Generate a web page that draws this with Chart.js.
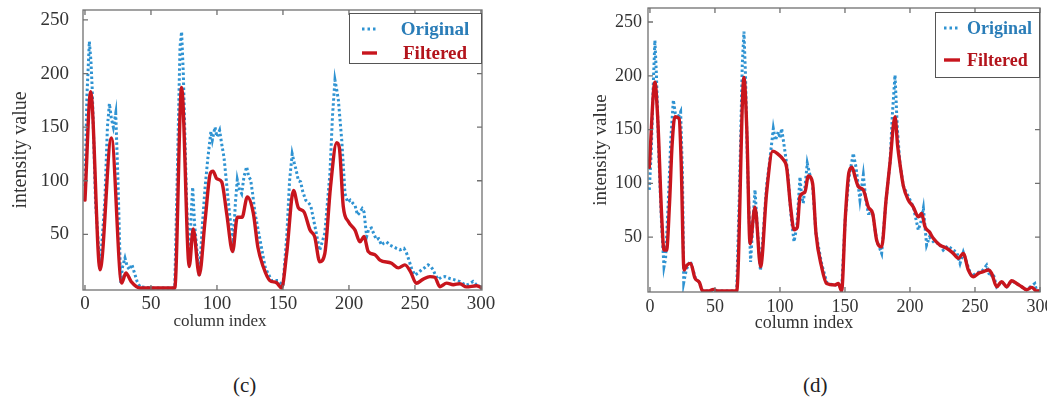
<!DOCTYPE html>
<html><head><meta charset="utf-8">
<script src="https://cdn.jsdelivr.net/npm/chart.js@4.4.1/dist/chart.umd.min.js"></script>
<style>
html,body{margin:0;padding:0;background:#fff;width:1047px;height:403px;overflow:hidden;}
#c1{position:absolute;left:0;top:0;}
#c2{position:absolute;left:520px;top:0;}
.cap{position:absolute;top:372px;line-height:26px;font-family:"Liberation Serif","Times New Roman",serif;font-size:21px;color:#222;}
</style></head><body>
<canvas id="c1" width="520" height="340"></canvas>
<canvas id="c2" width="527" height="340"></canvas>
<div class="cap" style="left:233px">(c)</div>
<div class="cap" style="left:803px">(d)</div>
<script>
// ---------- data ----------
const xTickValues = [0, 50, 100, 150, 200, 250, 300];
const yTickValues = [50, 100, 150, 200, 250];
const seriesNames = ['Original', 'Filtered'];
const xAxisTitle = 'column index';
const yAxisTitle = 'intensity value';

// panel (c)
const cOrigX = [0,1.5,2.5,3.3,4.5,5.5,8,11.4,15,17,18.5,20,21.5,23.3,25,27,28.5,30.3,32,33.8,35.5,37.5,39.5,41.7,50,68,70,72,73.2,74.5,77,79,80.5,81.6,83,86.6,89,91,93,95.4,96.5,98.5,100,102,103.5,105.3,107.5,109.8,112.4,114,115.4,117,118.7,120.5,122.5,124,125.5,127,128.8,132.6,136.4,138.5,141.4,146.4,150,153,155,157,158.5,160,161.7,163.4,165,167.2,169,171,173,174.8,177.8,181.7,185.6,187.5,189.4,191,192,194.6,197,199,201,203,204.6,206.5,208,210,211.4,213.4,215,217,219,220.8,222.5,224.7,226.5,228.5,231,233.6,236,238.6,241.7,243.5,244.9,247.5,250,252.5,255,257.5,260,262,263.8,265.5,267.6,270,272.7,276,279,281.5,284,286.5,289,291.5,294,296.5,299];
const cOrigY = [95,180,207,230,212,185,80,18,80,150,172,158,150,163,100,5,20,28,20,17,22,14,6,1,0,0,110,225,239,200,80,20,70,94,60,11,60,94,120,146,138,150,141,147,135,122,95,66,45,80,101,92,88,104,113,104,101,88,70,45,20,14,7,7,2,51,100,125,117,110,100,99,90,82,80,77,65,54,35,51,107,160,194,183,175,137,88,80,82,79,77,68,70,74,71,48,55,56,50,45,46,40,42,43,40,38.5,37,35.5,37,33,28,18,12,14,17,19,21.5,20,17,12,8,10,10.6,9,8,7,6,4,2.5,4,6,3,2];
const cFiltX = [0,4.3,11.4,20,27.8,31,35,41.7,68,73.2,79,82,86.6,91,95,97,99.8,103.6,107.3,111.9,115.4,119,123,127.5,131,135,140,145,149,152.8,158,161.6,165.9,170.5,174,177.9,181.7,186,190.7,192.7,195.7,199.5,204.6,208.3,211.4,214.6,219.7,223.5,232.3,237.4,242.4,246.7,251,256,261.4,265,268.9,274,279,284,289,296.7,300];
const cFiltY = [82,183,17,140,4.5,14,6,0,0,187,20,55,12,63,107,109,102,99,70,34,66,66,85,70,38,20,7,5,0,32,91,75,71,54,48,24.5,32,94,135.5,131,76,62,54,43,48,34,31,26,23,18.7,21.5,15,4.4,8,10.6,10,1.2,4.5,3,4,1,2,0.5];

// panel (d)
const dOrigX = [-0.5,1,2.5,3.8,5,7,9,10.8,12,14,16,18,19.5,21,23.6,25,26,28,31,33,35,38,40.5,66.7,69,71,72.3,73.5,75,77.4,79.5,80.8,82.5,85,87.5,89.7,92,94.9,96.5,98.7,100,101.3,103.8,106,108.5,110.8,113,115.4,116.5,117.9,119.5,121,123,125,127.7,132,136,142,145,147.4,150.3,153,156.4,158.5,161.5,164.1,166,168,171.3,174.4,178.2,181.6,184.6,186.5,188.5,190.3,192.3,194.9,198.7,202.6,206.4,208.5,210.3,212.8,215,219.2,222,225.6,229,233.3,236,238.5,241,244,247.4,251,255,258.9,261.5,264,266.7,270.5,274.4,278.2,282,285.9,289.7,293.6,296,297.4,300];
const dOrigY = [94,130,190,233,200,120,60,22.6,30,80,140,177.5,165,160,166.6,110,8,20,28,20,12,8,0,0,100,210,241,200,120,27,70,94,60,19,60,98,120,151,140,148,142,151,130,110,70,45.8,60,106,90,81.5,100,118.7,108,100,53.6,25.6,8,5,7,1,69,105,128,115,84.6,108,85,72,72,47,35,84.6,118.7,165,200.7,150,118,97.6,88,78,56.7,65,76.9,42.7,50,44,45,38,42,38,36,25.7,36,25,13.3,17,18,24,13.3,16,4,8.7,4,9.6,7,4,1.2,5,7,0,0];
const dFiltX = [-0.5,3.8,6,9,10.8,12.8,15,17,19.2,22.5,24,26.2,28.5,31.3,34.6,38,40.5,45,48.7,52,66.7,72.3,74.5,77,80.8,85.1,89.7,94.4,98.7,102.6,105.1,108.2,110.8,113.3,115.4,119.2,121.8,125.1,127.7,132,135.9,142.3,144.9,147.4,150.3,153,155.4,158,160.3,164.1,168,171.3,174.4,178.2,181.6,184.6,188.5,190.5,192.3,194.9,198.7,202.6,206.4,209,211.5,214.9,217.9,223,228.2,233.3,237.2,241,244.9,248.7,252.6,256.4,260.3,262.8,266.7,270.5,274.4,278.2,282,285.9,289.7,293.6,297.4,300];
const dFiltY = [115,194,160,70,38,38,80,135,162,160,120,19.5,24,25.7,12,8,0,0,1.5,0,0,198.5,150,44,78,22.6,91,130,127,122,115,78,57,59,88,92,107,100,53.6,22.6,7,5.6,7,0,69,110,115,105,97,94,78,72,47,41,84.6,118.7,162,135,118,97.6,84.6,78,69,72,59.8,55,49,42.7,39.7,35,30.4,35,19.5,13.3,16.4,18,19.5,16.4,4,8.7,4,9.6,7,4,1.2,3.4,0,0];

// ---------- styling ----------
const FONT = '"Liberation Serif","Times New Roman",serif';
const BLUE = '#2f93d2';
const RED = '#c8151d';
const BLUE_TXT = '#2a7db8';
const RED_TXT = '#b3141c';
const TXT = '#333';

const boxLegend = {
  id: 'boxLegend',
  afterDraw(chart, args, o) {
    const {ctx, chartArea: a, scales: {x, y}} = chart;
    ctx.save();
    ctx.strokeStyle = '#707070';
    ctx.lineWidth = 1.3;
    ctx.strokeRect(a.left, a.top, a.right - a.left, a.bottom - a.top);
    ctx.beginPath();
    x.ticks.forEach(t => {
      const p = x.getPixelForValue(t.value);
      ctx.moveTo(p, a.bottom); ctx.lineTo(p, a.bottom - 5);
      ctx.moveTo(p, a.top); ctx.lineTo(p, a.top + 5);
    });
    y.ticks.forEach(t => {
      const p = y.getPixelForValue(t.value);
      ctx.moveTo(a.left, p); ctx.lineTo(a.left + 5, p);
      ctx.moveTo(a.right, p); ctx.lineTo(a.right - 5, p);
    });
    ctx.stroke();
    ctx.fillStyle = TXT;
    ctx.font = o.xTitleSize + 'px ' + FONT;
    ctx.textAlign = 'center';
    ctx.textBaseline = 'middle';
    ctx.fillText(xAxisTitle, a.left + o.xTitleDx, o.xTitleY);
    const bx = a.right - o.w, by = a.top + o.dy;
    ctx.fillStyle = '#fff';
    ctx.fillRect(bx, by, o.w, o.h);
    ctx.strokeStyle = '#555';
    ctx.lineWidth = 1;
    ctx.strokeRect(bx + 0.5, by + 0.5, o.w - 1, o.h - 1);
    const ds = chart.data.datasets;
    ctx.font = 'bold ' + o.fontSize + 'px ' + FONT;
    ctx.textAlign = o.textAlign;
    ds.forEach((d, i) => {
      const ry = by + o.rows[i];
      ctx.beginPath();
      ctx.strokeStyle = d.borderColor;
      ctx.lineWidth = i === 0 ? 3 : 3.4;
      ctx.setLineDash(i === 0 ? [2.5, 3] : []);
      ctx.moveTo(bx + o.sx, ry); ctx.lineTo(bx + o.sx + o.sw, ry);
      ctx.stroke();
      ctx.setLineDash([]);
      ctx.fillStyle = i === 0 ? BLUE_TXT : RED_TXT;
      ctx.fillText(d.label, bx + o.tx, ry + 1);
    });
    ctx.restore();
  }
};

function makeChart(id, ox, oy, fx, fy, c) {
  const pts = (xs, ys) => xs.map((v, i) => ({x: v, y: ys[i]}));
  return new Chart(document.getElementById(id), {
    type: 'line',
    data: {datasets: [
      {label: seriesNames[0], data: pts(ox, oy), borderColor: BLUE, borderWidth: 3,
       borderDash: [2.5, 2.5], pointRadius: 0, order: 2, tension: 0, fill: false},
      {label: seriesNames[1], data: pts(fx, fy), borderColor: RED, borderWidth: 3.4,
       pointRadius: 0, order: 1, cubicInterpolationMode: 'monotone', fill: false,
       borderJoinStyle: 'round', borderCapStyle: 'round'}
    ]},
    options: {
      responsive: false, animation: false,
      layout: {padding: {left: 0, right: c.padRight, top: c.padTop, bottom: 0}},
      plugins: {legend: {display: false}, tooltip: {enabled: false}, boxLegend: c.legend},
      scales: {
        x: {
          type: 'linear', min: c.xMin, max: c.xMax,
          grid: {display: false, drawTicks: false}, border: {display: false},
          afterBuildTicks: s => { s.ticks = xTickValues.map(v => ({value: v})); },
          ticks: {font: {family: FONT, size: c.tickSize}, color: TXT, padding: c.xTickPad,
                  maxRotation: 0, autoSkip: false},
          afterFit: s => { s.height = c.xAxisH; s.paddingLeft = 0; s.paddingRight = 0; }
        },
        y: {
          type: 'linear', min: c.yMin, max: c.yMax,
          grid: {display: false, drawTicks: false}, border: {display: false},
          afterBuildTicks: s => { s.ticks = yTickValues.map(v => ({value: v})); },
          ticks: {font: {family: FONT, size: c.tickSize}, color: TXT, padding: c.yTickPad},
          title: {display: true, text: yAxisTitle, color: TXT,
                  font: {family: FONT, size: c.yTitleSize}, padding: {top: c.yTitlePad, bottom: 0}},
          afterFit: s => { s.width = c.yAxisW; s.paddingTop = 0; s.paddingBottom = 0; }
        }
      }
    },
    plugins: [boxLegend]
  });
}

makeChart('c1', cOrigX, cOrigY, cFiltX, cFiltY, {
  padRight: 38, padTop: 10, xMin: -1.5, xMax: 300.8, yMin: -1.9, yMax: 259.3,
  tickSize: 19, xTickPad: 3, yTickPad: 14, xAxisH: 50, yAxisW: 83,
  yTitleSize: 20, yTitlePad: 9,
  legend: {w: 133, h: 51, dy: 3, rows: [16, 40], sx: 13, sw: 15, tx: 86, textAlign: 'center',
           fontSize: 19, xTitleSize: 17, xTitleDx: 137, xTitleY: 322}
});
makeChart('c2', dOrigX, dOrigY, dFiltX, dFiltY, {
  padRight: 7, padTop: 8, xMin: -1.5, xMax: 300, yMin: -0.9, yMax: 263,
  tickSize: 18, xTickPad: 4, yTickPad: 6, xAxisH: 48, yAxisW: 128,
  yTitleSize: 19, yTitlePad: 70,
  legend: {w: 105, h: 66, dy: 4, rows: [16, 48], sx: 9, sw: 16, tx: 32, textAlign: 'left',
           fontSize: 18, xTitleSize: 18, xTitleDx: 156, xTitleY: 323}
});
</script>
</body></html>
